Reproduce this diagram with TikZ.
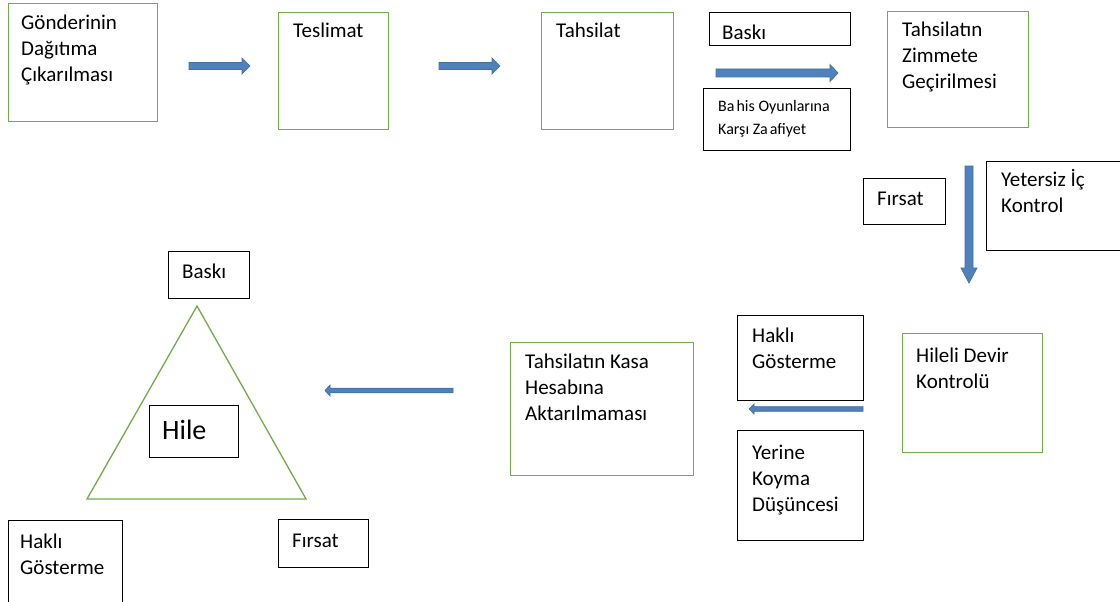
\documentclass[tikz,border=0pt]{standalone}
\usepackage{fontspec}
\setmainfont{Carlito}
\usetikzlibrary{calc}

\definecolor{boxgreen}{HTML}{70AD47}
\definecolor{arrowblue}{HTML}{4F81BD}
\definecolor{arrowedge}{HTML}{41719C}

\newcommand{\stack}[1]{\begin{tabular}[t]{@{}l@{}}#1\end{tabular}}
% block arrow: start, end, half shaft, half head, head length
\newcommand{\blkarrow}[5]{%
  \draw[blockarrow] ($(#1)!#3!90:(#2)$) -- ($(#2)!#5!(#1)!#3!-90:(#1)$)
    -- ($(#2)!#5!(#1)!#4!-90:(#1)$) -- (#2) -- ($(#2)!#5!(#1)!#4!90:(#1)$)
    -- ($(#2)!#5!(#1)!#3!90:(#1)$) -- ($(#1)!#3!-90:(#2)$) -- cycle;}

\tikzset{
  gbox/.style={draw=boxgreen, line width=1.3pt, anchor=north west, inner sep=0pt},
  kbox/.style={draw=black, line width=1.2pt, anchor=north west, inner sep=0pt},
  txt/.style={inner sep=0pt, anchor=base west, font=\fontsize{21}{26}\selectfont},
  blockarrow/.style={fill=arrowblue, draw=arrowedge, line width=0.7pt, line join=miter}
}

\begin{document}
\begin{tikzpicture}[x=1pt, y=-1pt]
	\fill[white] (0,0) rectangle (1120,602);
	\useasboundingbox (0,0) rectangle (1120,602);
	% Akis: ust sira
	\node[gbox, minimum width=149pt, minimum height=118pt] (gonderi) at (8,3) {};
	\node[txt] (gonderi-t) at ($(gonderi.north west)+(13,27)$) {\stack{Gönderinin\\Dağıtıma\\Çıkarılması}};
	\node[gbox, minimum width=110pt, minimum height=117pt] (teslimat) at (278,12) {};
	\node[txt] (teslimat-t) at ($(teslimat.north west)+(15,26)$) {Teslimat};
	\node[gbox, minimum width=132pt, minimum height=117pt] (tahsilat) at (541,12) {};
	\node[txt] (tahsilat-t) at ($(tahsilat.north west)+(15,26)$) {Tahsilat};
	\node[kbox, minimum width=141pt, minimum height=33pt] (baski) at (709,12) {};
	\node[txt] (baski-t) at ($(baski.north west)+(13,28)$) {Baskı};
	\node[kbox, minimum width=147pt, minimum height=62pt] (bahis) at (703,88) {};
	\node[txt, font=\fontsize{16}{23}\selectfont] (bahis-t) at ($(bahis.north west)+(15,24)$)
		{\stack{Ba\kern2pt his Oyunlarına\\Karşı Za\kern2pt afiyet}};
	\node[gbox, minimum width=141pt, minimum height=116pt] (zimmet) at (887,11) {};
	\node[txt] (zimmet-t) at ($(zimmet.north west)+(15,26)$) {\stack{Tahsilatın\\Zimmete\\Geçirilmesi}};
	% Akis: sag kenar
	\node[kbox, minimum width=82pt, minimum height=46pt] (firsat) at (863,178) {};
	\node[txt] (firsat-t) at ($(firsat.north west)+(14,27)$) {Fırsat};
	\node[kbox, minimum width=150pt, minimum height=89pt] (yetersiz) at (986,161) {};
	\node[txt] (yetersiz-t) at ($(yetersiz.north west)+(15,25)$) {\stack{Yetersiz İç\\Kontrol}};
	% Akis: alt sira
	\node[gbox, minimum width=140pt, minimum height=119pt] (hileli) at (902,333) {};
	\node[txt] (hileli-t) at ($(hileli.north west)+(14,29)$) {\stack{Hileli Devir\\Kontrolü}};
	\node[kbox, minimum width=126pt, minimum height=85pt] (hakli) at (737,315) {};
	\node[txt] (hakli-t) at ($(hakli.north west)+(15,27)$) {\stack{Haklı\\Gösterme}};
	\node[kbox, minimum width=126pt, minimum height=110pt] (yerine) at (737,430) {};
	\node[txt] (yerine-t) at ($(yerine.north west)+(15,29)$) {\stack{Yerine\\Koyma\\Düşüncesi}};
	\node[gbox, minimum width=183pt, minimum height=133pt] (kasa) at (510,342) {};
	\node[txt] (kasa-t) at ($(kasa.north west)+(15,26)$) {\stack{Tahsilatın Kasa\\Hesabına\\Aktarılmaması}};
	% Hile ucgeni
	\draw[boxgreen, line width=1.3pt] (197,306) -- (87,499) -- (306,499) -- cycle;
	\node[kbox, minimum width=81pt, minimum height=47pt] (ubaski) at (168,251) {};
	\node[txt] (ubaski-t) at ($(ubaski.north west)+(14,27)$) {Baskı};
	\node[kbox, minimum width=89pt, minimum height=52pt] (hile) at (149,405) {};
	\node[txt, font=\fontsize{28}{34}\selectfont] (hile-t) at ($(hile.north west)+(13,34)$) {Hile};
	\node[kbox, minimum width=114pt, minimum height=95pt] (uhakli) at (8,520) {};
	\node[txt] (uhakli-t) at ($(uhakli.north west)+(12,28)$) {\stack{Haklı\\Gösterme}};
	\node[kbox, minimum width=90pt, minimum height=48pt] (ufirsat) at (278,519) {};
	\node[txt] (ufirsat-t) at ($(ufirsat.north west)+(14,28)$) {Fırsat};
	% Oklar
	\coordinate (a1s) at (189,66); \coordinate (a1e) at (250,66);
	\coordinate (a2s) at (439,66); \coordinate (a2e) at (500,66);
	\coordinate (a3s) at (716,73); \coordinate (a3e) at (838,73);
	\coordinate (a4s) at (969,166); \coordinate (a4e) at (969,283);
	\coordinate (a5s) at (863,409); \coordinate (a5e) at (749,409);
	\coordinate (a6s) at (453,390.5); \coordinate (a6e) at (325,390.5);
	\blkarrow{a1s}{a1e}{3.5pt}{8pt}{8pt}
	\blkarrow{a2s}{a2e}{3.5pt}{8pt}{8pt}
	\blkarrow{a3s}{a3e}{4pt}{8.5pt}{8pt}
	\blkarrow{a4s}{a4e}{4pt}{8pt}{15pt}
	\blkarrow{a5s}{a5e}{2.3pt}{5pt}{5pt}
	\blkarrow{a6s}{a6e}{2.3pt}{5.5pt}{5pt}
\end{tikzpicture}
\end{document}
